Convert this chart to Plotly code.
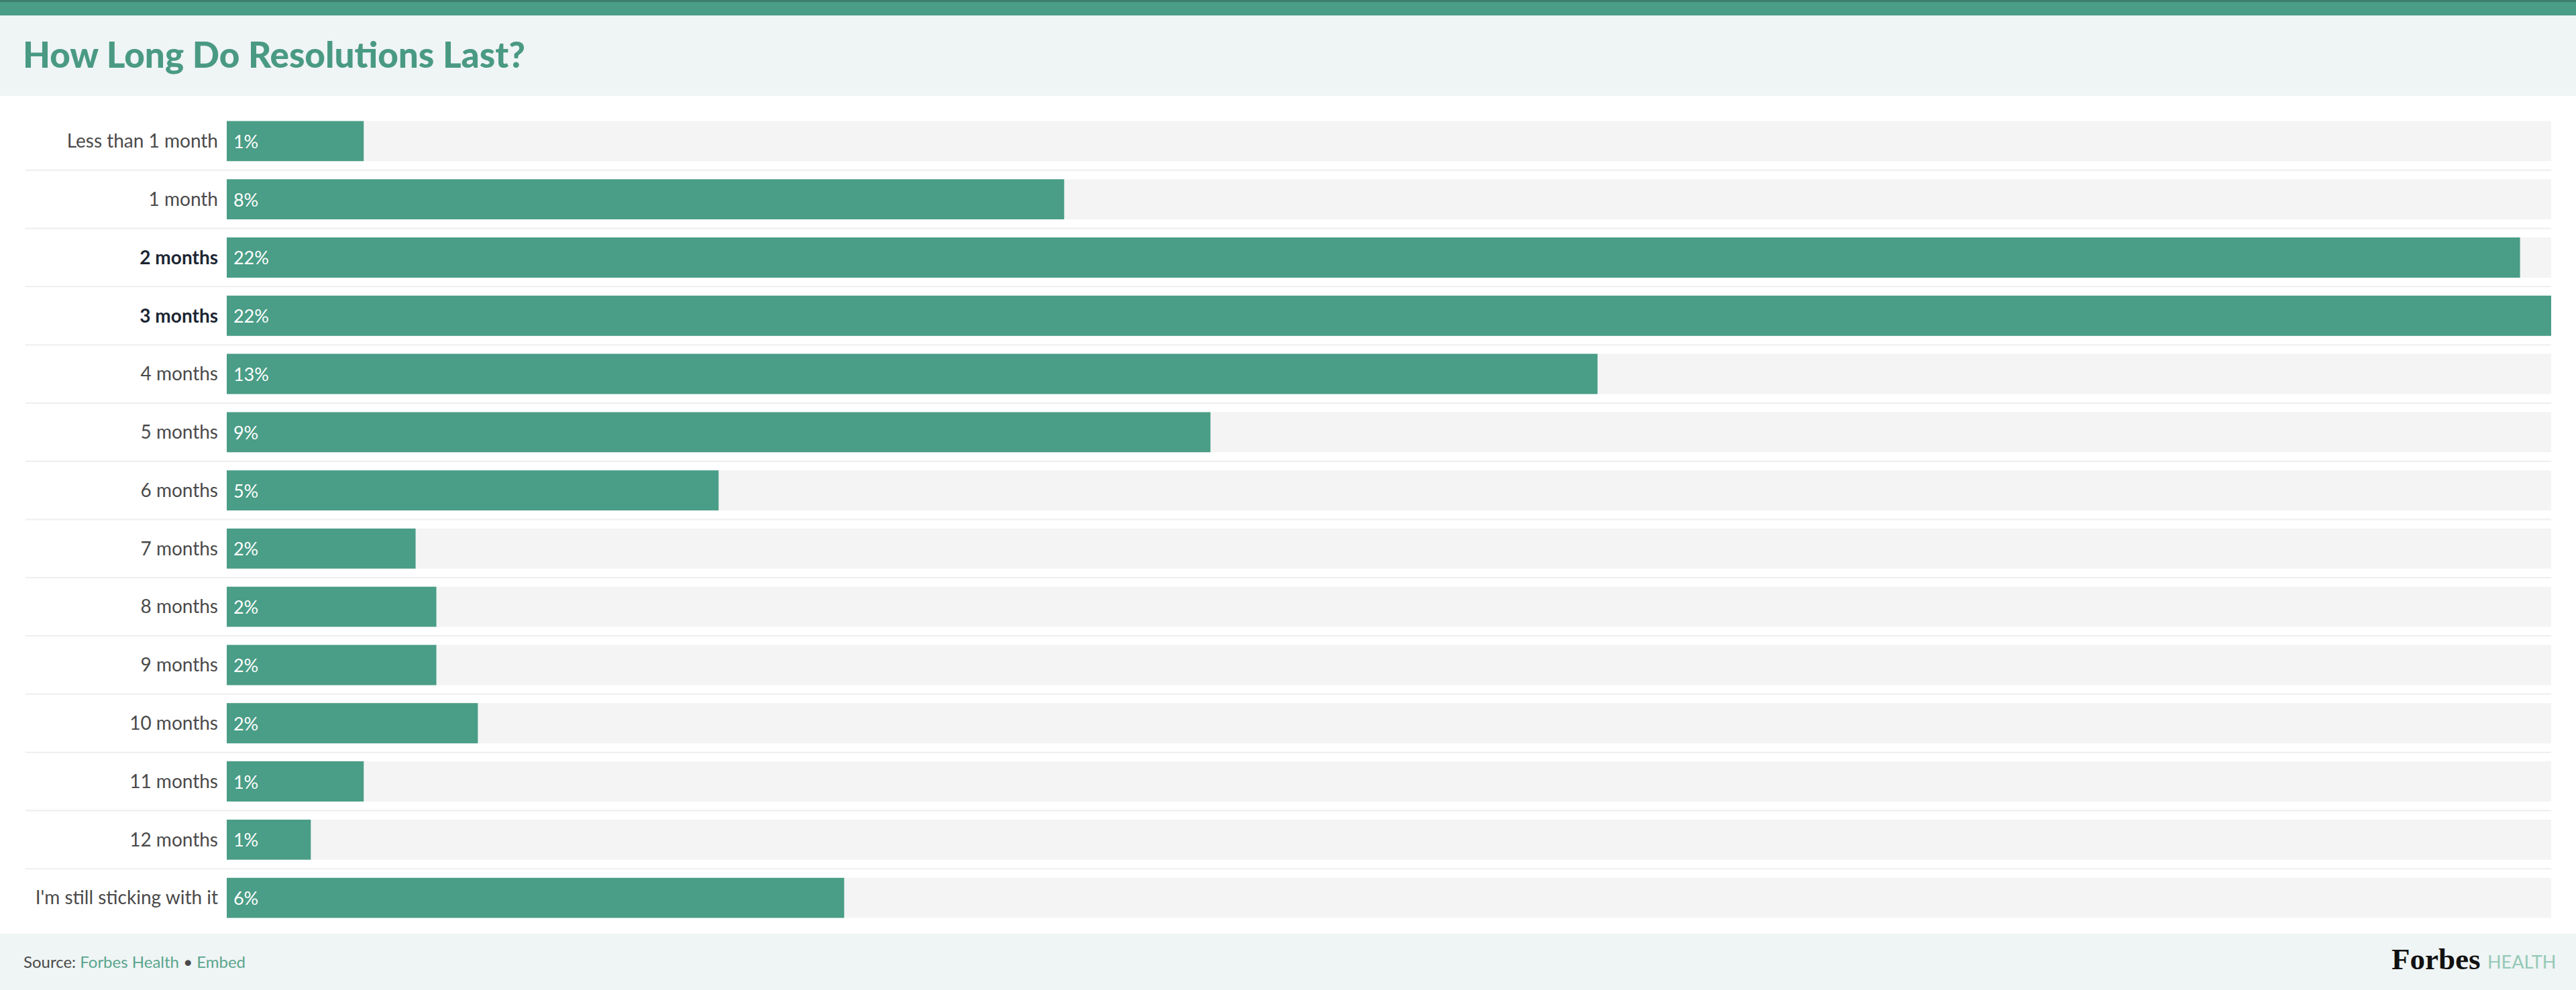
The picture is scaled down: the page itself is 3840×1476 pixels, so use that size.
import plotly.graph_objects as go

# ---------------- data ----------------
categories = [
    "Less than 1 month", "1 month", "2 months", "3 months", "4 months",
    "5 months", "6 months", "7 months", "8 months", "9 months",
    "10 months", "11 months", "12 months", "I'm still sticking with it",
]
values = [1.32, 8.07, 22.10, 22.40, 13.21, 9.48, 4.74, 1.82, 2.02, 2.02, 2.42, 1.32, 0.81, 5.95]
highlighted = ["2 months", "3 months"]
title_text = "How Long Do Resolutions Last?"

# ---------------- layout geometry ----------------
W, H = 3840, 1476
ML, MR, MT, MB = 338, 37, 167, 94
PW, PH = W - ML - MR, H - MT - MB

def xp(px):
    return (px - ML) / PW

def yp(py):
    return (H - MB - py) / PH

GREEN = "#4a9d86"
TRACK = "#f4f4f4"
PANEL = "#eff4f4"
FONT = "Lato"

vmax = max(values)
n = len(categories)

ticktext = [
    f"<span style='color:#1c2633'><b>{c}</b></span>" if c in highlighted else c
    for c in categories
]

fig = go.Figure()
fig.add_trace(go.Bar(
    y=categories, x=[vmax] * n, orientation="h",
    marker=dict(color=TRACK, line=dict(width=0)),
    hoverinfo="skip", showlegend=False,
))
fig.add_trace(go.Bar(
    y=categories, x=values, orientation="h",
    marker=dict(color=GREEN, line=dict(width=0)),
    texttemplate="\u00a0%{x:.0f}%", textposition="inside",
    insidetextanchor="start", constraintext="none",
    textfont=dict(family=FONT, size=27, color="white"),
    showlegend=False,
))

shapes = []
# top green band
shapes.append(dict(type="rect", xref="paper", yref="paper",
                   x0=xp(0), x1=xp(W), y0=yp(23), y1=yp(0),
                   fillcolor=GREEN, line=dict(width=0), layer="below"))
shapes.append(dict(type="rect", xref="paper", yref="paper",
                   x0=xp(0), x1=xp(W), y0=yp(3), y1=yp(0),
                   fillcolor="#3c7e6b", line=dict(width=0), layer="below"))
# header panel
shapes.append(dict(type="rect", xref="paper", yref="paper",
                   x0=xp(0), x1=xp(W), y0=yp(143), y1=yp(23),
                   fillcolor=PANEL, line=dict(width=0), layer="below"))
# footer panel
shapes.append(dict(type="rect", xref="paper", yref="paper",
                   x0=xp(0), x1=xp(W), y0=yp(H), y1=yp(1392),
                   fillcolor=PANEL, line=dict(width=0), layer="below"))
# row separators
for k in range(n - 1):
    shapes.append(dict(type="line", xref="paper", yref="y",
                       x0=xp(38), x1=1, y0=k + 0.5, y1=k + 0.5,
                       line=dict(color="#eeeeee", width=2), layer="below"))

annotations = [
    dict(text=title_text, xref="paper", yref="paper",
         x=xp(32), y=yp(80), xanchor="left", yanchor="middle", showarrow=False,
         font=dict(family=FONT, size=53, color="#4a9a83", weight=900)),
    dict(text="Source: <span style='color:#5aa58e'>Forbes Health</span> \u2022 "
              "<span style='color:#5aa58e'>Embed</span>",
         xref="paper", yref="paper", x=xp(33), y=yp(1433),
         xanchor="left", yanchor="middle", showarrow=False,
         font=dict(family=FONT, size=24, color="#4a4a4a")),
    dict(text="<b>Forbes</b>", xref="paper", yref="paper",
         x=xp(3699), y=yp(1430), xanchor="right", yanchor="middle", showarrow=False,
         font=dict(family="Liberation Serif", size=45, color="#111111")),
    dict(text="HEALTH", xref="paper", yref="paper",
         x=xp(3706), y=yp(1433), xanchor="left", yanchor="middle", showarrow=False,
         font=dict(family=FONT, size=27, color="#94c9b7")),
]

fig.update_layout(
    width=W, height=H,
    margin=dict(l=ML, r=MR, t=MT, b=MB, pad=0),
    paper_bgcolor="white", plot_bgcolor="white",
    barmode="overlay", bargap=0.31,
    shapes=shapes, annotations=annotations,
    xaxis=dict(range=[0, vmax], visible=False, fixedrange=True),
    yaxis=dict(
        type="category", range=[n - 0.5, -0.5],
        tickmode="array", tickvals=categories, ticktext=ticktext,
        tickfont=dict(family=FONT, size=28, color="#4a4a4a"),
        ticks="", showline=False, showgrid=False, zeroline=False,
        ticklabelstandoff=12, fixedrange=True,
    ),
    font=dict(family=FONT),
    showlegend=False,
)

fig.write_html("out.html")
